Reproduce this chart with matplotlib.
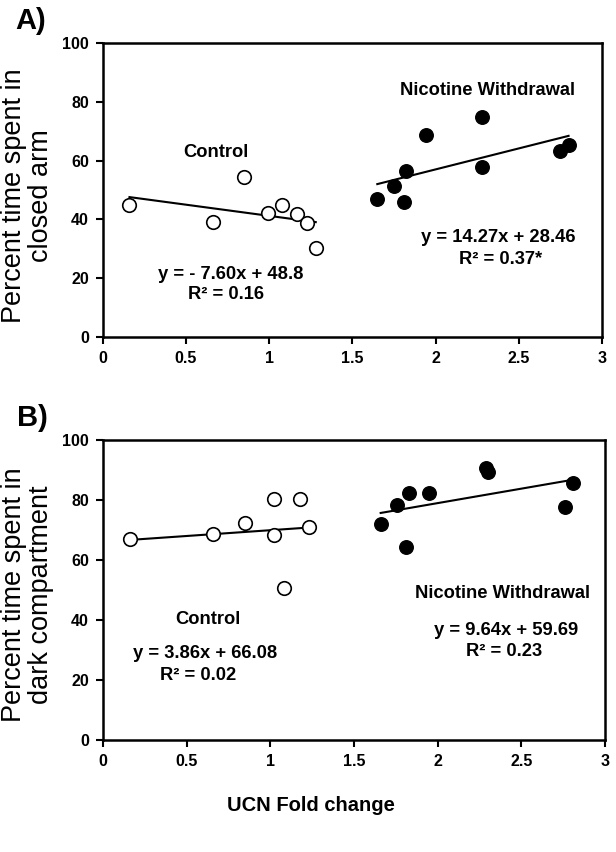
import numpy as np
from matplotlib import pyplot as plt

plt.rcParams['font.family'] = ['Liberation Sans', 'DejaVu Sans']

# Panel A: closed arm
a_ctrl_x = [0.16, 0.66, 0.85, 0.99, 1.08, 1.17, 1.23, 1.28]
a_ctrl_y = [44.9, 39.2, 54.4, 42.2, 44.9, 41.9, 38.9, 30.2]
a_nic_x = [1.65, 1.75, 1.81, 1.82, 1.94, 2.28, 2.28, 2.75, 2.80]
a_nic_y = [46.8, 51.4, 46.0, 56.5, 68.7, 74.8, 57.7, 63.4, 65.4]

# Panel B: dark compartment
b_ctrl_x = [0.16, 0.66, 0.85, 1.02, 1.02, 1.08, 1.18, 1.23]
b_ctrl_y = [67.0, 68.6, 72.2, 80.2, 68.4, 50.6, 80.4, 70.9]
b_nic_x = [1.66, 1.76, 1.83, 1.81, 1.95, 2.29, 2.30, 2.76, 2.81]
b_nic_y = [71.9, 78.2, 82.2, 64.2, 82.2, 90.8, 89.3, 77.8, 85.6]

# fitted lines (slope, intercept)
a_ctrl_fit = (-7.60, 48.8)
a_nic_fit = (14.27, 28.46)
b_ctrl_fit = (3.86, 66.08)
b_nic_fit = (9.64, 59.69)

xticks = [0, 0.5, 1, 1.5, 2, 2.5, 3]
xticklabels = ['0', '0.5', '1', '1.5', '2', '2.5', '3']
yticks = [0, 20, 40, 60, 80, 100]


def draw_panel(ax, cx, cy, nx, ny, cfit, nfit):
    for xs, fit in ((cx, cfit), (nx, nfit)):
        xl = np.array([min(xs), max(xs)])
        ax.plot(xl, fit[0] * xl + fit[1], color='black', lw=1.5, zorder=2)
    ax.scatter(cx, cy, s=95, facecolors='white', edgecolors='black', linewidths=1.2, zorder=3)
    ax.scatter(nx, ny, s=95, color='black', zorder=3)
    ax.set_xlim(0, 3)
    ax.set_ylim(0, 100)
    ax.set_xticks(xticks)
    ax.set_xticklabels(xticklabels)
    ax.set_yticks(yticks)
    ax.tick_params(direction='out', length=5, width=1.5, labelsize=11.5, pad=5)
    for lbl in ax.get_xticklabels() + ax.get_yticklabels():
        lbl.set_fontweight('bold')
    for sp in ax.spines.values():
        sp.set_linewidth(1.8)


fig = plt.figure(figsize=(6.16, 8.52), dpi=100)
ax1 = fig.add_axes([0.167, 0.6045, 0.81, 0.345])
ax2 = fig.add_axes([0.167, 0.1315, 0.815, 0.352])

draw_panel(ax1, a_ctrl_x, a_ctrl_y, a_nic_x, a_nic_y, a_ctrl_fit, a_nic_fit)
draw_panel(ax2, b_ctrl_x, b_ctrl_y, b_nic_x, b_nic_y, b_ctrl_fit, b_nic_fit)

kw = dict(ha='center', va='center', fontweight='bold', fontsize=13.2)
ax1.text(0.68, 62.8, 'Control', **kw)
ax1.text(2.31, 83.7, 'Nicotine Withdrawal', **kw)
ax1.text(0.77, 21.1, 'y = - 7.60x + 48.8', **kw)
ax1.text(0.74, 14.3, 'R² = 0.16', **kw)
ax1.text(2.38, 33.9, 'y = 14.27x + 28.46', **kw)
ax1.text(2.39, 26.2, 'R² = 0.37*', **kw)

ax2.text(0.63, 40.3, 'Control', **kw)
ax2.text(2.39, 48.9, 'Nicotine Withdrawal', **kw)
ax2.text(0.61, 28.9, 'y = 3.86x + 66.08', **kw)
ax2.text(0.57, 21.4, 'R² = 0.02', **kw)
ax2.text(2.41, 36.4, 'y = 9.64x + 59.69', **kw)
ax2.text(2.40, 29.4, 'R² = 0.23', **kw)

lab = dict(rotation=90, ha='center', va='center', fontsize=19.5, linespacing=1.05,
           multialignment='center')
fig.text(28 / 616, 1 - 196 / 852, 'Percent time spent in\nclosed arm', **lab)
fig.text(28 / 616, 1 - 595 / 852, 'Percent time spent in\ndark compartment', **lab)

fig.text(31 / 616, 1 - 21 / 852, 'A)', fontsize=21, fontweight='bold', va='center', ha='center')
fig.text(32 / 616, 1 - 418 / 852, 'B)', fontsize=21, fontweight='bold', va='center', ha='center')
fig.text(0.505, 0.055, 'UCN Fold change', fontsize=14.5, fontweight='bold', ha='center', va='center')

plt.savefig('out.png', dpi=100)
